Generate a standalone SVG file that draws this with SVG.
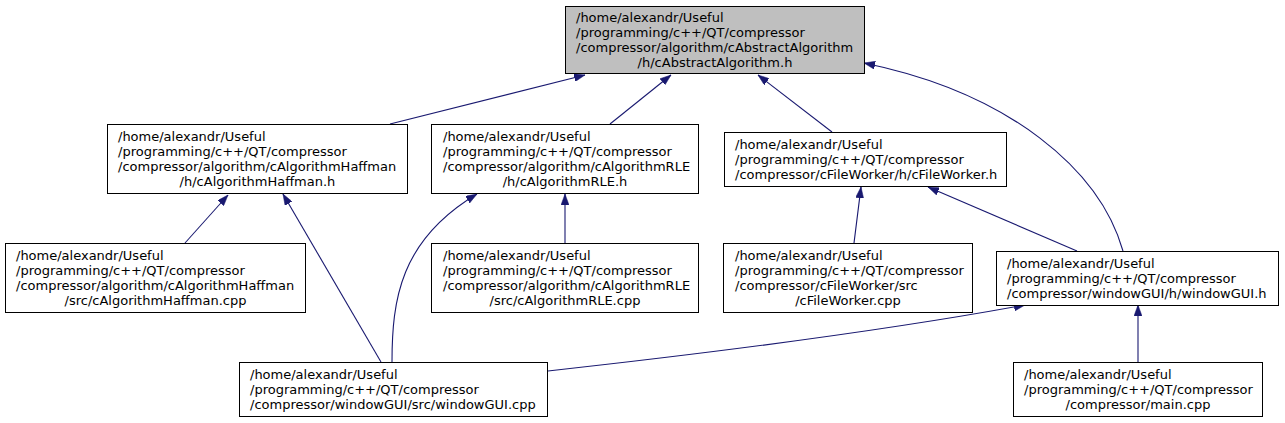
<svg xmlns="http://www.w3.org/2000/svg" width="1285" height="423" viewBox="0 0 1285 423">
<style>
.n rect{fill:#ffffff;stroke:#000000;stroke-width:1}
.n.root rect{fill:#bfbfbf}
.n text{font-family:"DejaVu Sans",sans-serif;font-size:13px;fill:#000000}
.n text.c{text-anchor:middle}
.e path{fill:none;stroke:#191970;stroke-width:1.1;marker-end:url(#ah)}
</style>
<defs>
<marker id="ah" markerUnits="userSpaceOnUse" viewBox="0 0 11 8" markerWidth="11" markerHeight="8" refX="11" refY="4" orient="auto">
<path d="M0,0 L11,4 L0,8 z" fill="#191970" stroke="#191970" stroke-width="0.5"/>
</marker>
</defs>
<rect width="1285" height="423" fill="#ffffff"/>
<g id="edges" class="e">
<path d="M390,124 L585,75"/>
<path d="M610,124 L671,75"/>
<path d="M832,132 L758,75"/>
<path d="M1123,251 C1100,170 1010,93 864,63"/>
<path d="M185,243 L228,195"/>
<path d="M381,362 L283,194"/>
<path d="M392,362 C392,300 400,240 477,194"/>
<path d="M565,243 L565,194"/>
<path d="M854,243 L861,187"/>
<path d="M1077,251 L928,187"/>
<path d="M548,371 C720,352 900,328 1025,305"/>
<path d="M1138,362 L1138,305"/>
</g>
<g id="node_top" class="n root">
<rect x="565.5" y="6.5" width="299" height="67"/>
<text x="576" y="22">/home/alexandr/Useful</text>
<text x="576" y="37">/programming/c++/QT/compressor</text>
<text x="576" y="52">/compressor/algorithm/cAbstractAlgorithm</text>
<text class="c" x="715" y="67">/h/cAbstractAlgorithm.h</text>
</g>
<g id="node_haff_h" class="n">
<rect x="107.5" y="124.5" width="300" height="69"/>
<text x="118" y="141">/home/alexandr/Useful</text>
<text x="118" y="156">/programming/c++/QT/compressor</text>
<text x="118" y="171">/compressor/algorithm/cAlgorithmHaffman</text>
<text class="c" x="257.5" y="186">/h/cAlgorithmHaffman.h</text>
</g>
<g id="node_rle_h" class="n">
<rect x="431.5" y="124.5" width="267" height="69"/>
<text x="443" y="141">/home/alexandr/Useful</text>
<text x="443" y="156">/programming/c++/QT/compressor</text>
<text x="443" y="171">/compressor/algorithm/cAlgorithmRLE</text>
<text class="c" x="565" y="186">/h/cAlgorithmRLE.h</text>
</g>
<g id="node_fw_h" class="n">
<rect x="724.5" y="132.5" width="282" height="54"/>
<text x="735" y="149">/home/alexandr/Useful</text>
<text x="735" y="164">/programming/c++/QT/compressor</text>
<text x="735" y="179">/compressor/cFileWorker/h/cFileWorker.h</text>
</g>
<g id="node_haff_cpp" class="n">
<rect x="5.5" y="243.5" width="300" height="69"/>
<text x="16" y="260">/home/alexandr/Useful</text>
<text x="16" y="275">/programming/c++/QT/compressor</text>
<text x="16" y="290">/compressor/algorithm/cAlgorithmHaffman</text>
<text class="c" x="155.5" y="305">/src/cAlgorithmHaffman.cpp</text>
</g>
<g id="node_rle_cpp" class="n">
<rect x="431.5" y="243.5" width="267" height="69"/>
<text x="443" y="260">/home/alexandr/Useful</text>
<text x="443" y="275">/programming/c++/QT/compressor</text>
<text x="443" y="290">/compressor/algorithm/cAlgorithmRLE</text>
<text class="c" x="565" y="305">/src/cAlgorithmRLE.cpp</text>
</g>
<g id="node_fw_cpp" class="n">
<rect x="723.5" y="243.5" width="249" height="69"/>
<text x="735" y="260">/home/alexandr/Useful</text>
<text x="735" y="275">/programming/c++/QT/compressor</text>
<text x="735" y="290">/compressor/cFileWorker/src</text>
<text class="c" x="848" y="305">/cFileWorker.cpp</text>
</g>
<g id="node_wg_h" class="n">
<rect x="996.5" y="251.5" width="282" height="54"/>
<text x="1007" y="268">/home/alexandr/Useful</text>
<text x="1007" y="283">/programming/c++/QT/compressor</text>
<text x="1007" y="298">/compressor/windowGUI/h/windowGUI.h</text>
</g>
<g id="node_wg_cpp" class="n">
<rect x="239.5" y="362.5" width="308" height="54"/>
<text x="250" y="379">/home/alexandr/Useful</text>
<text x="250" y="394">/programming/c++/QT/compressor</text>
<text x="250" y="409">/compressor/windowGUI/src/windowGUI.cpp</text>
</g>
<g id="node_main" class="n">
<rect x="1013.5" y="362.5" width="249" height="54"/>
<text x="1024" y="379">/home/alexandr/Useful</text>
<text x="1024" y="394">/programming/c++/QT/compressor</text>
<text class="c" x="1138" y="409">/compressor/main.cpp</text>
</g>
</svg>
